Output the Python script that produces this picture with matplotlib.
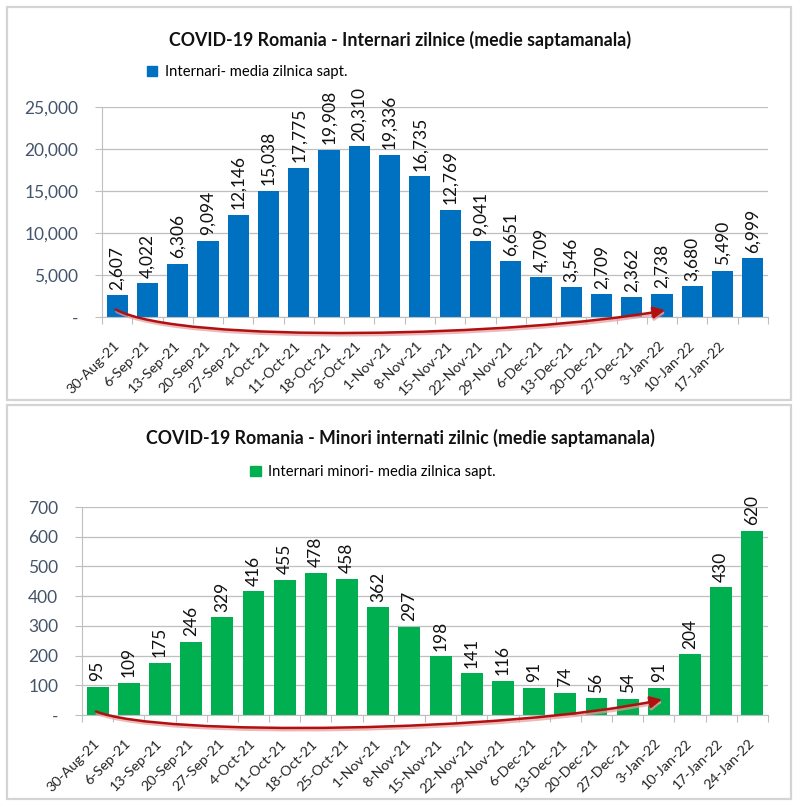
import numpy as np
import matplotlib
matplotlib.use("Agg")
import matplotlib.pyplot as plt
from matplotlib.patches import Rectangle, FancyArrowPatch
from matplotlib.path import Path
from matplotlib.transforms import offset_copy

plt.rcParams['font.family'] = ['Lato', 'DejaVu Sans']

dates = ["30-Aug-21", "6-Sep-21", "13-Sep-21", "20-Sep-21", "27-Sep-21", "4-Oct-21",
         "11-Oct-21", "18-Oct-21", "25-Oct-21", "1-Nov-21", "8-Nov-21", "15-Nov-21",
         "22-Nov-21", "29-Nov-21", "6-Dec-21", "13-Dec-21", "20-Dec-21", "27-Dec-21",
         "3-Jan-22", "10-Jan-22", "17-Jan-22", "24-Jan-22"]

# top chart: last bar has no date label in the original
top_labels = dates[:-1] + [""]
top_vals = [2607, 4022, 6306, 9094, 12146, 15038, 17775, 19908, 20310, 19336, 16735,
            12769, 9041, 6651, 4709, 3546, 2709, 2362, 2738, 3680, 5490, 6999]

bot_labels = dates
bot_vals = [95, 109, 175, 246, 329, 416, 455, 478, 458, 362, 297, 198, 141, 116,
            91, 74, 56, 54, 91, 204, 430, 620]

W, H = 800, 809
fig = plt.figure(figsize=(W / 100, H / 100), dpi=100)


def box(x0, y0, x1, y1):
    # pixel box (top-left origin) -> figure fraction rect
    return [x0 / W, 1 - y1 / H, (x1 - x0) / W, (y1 - y0) / H]


grid_c = "#bfbfbf"
tick_c = "#44546A"

# panel frames
for y0, y1 in [(7, 400), (405, 799)]:
    fig.patches.append(Rectangle((7 / W, 1 - y1 / H), 784 / W, (y1 - y0) / H,
                                 transform=fig.transFigure, fill=False,
                                 edgecolor="#d4d4d4", lw=1.6))


def draw(ax, labels, vals, color, ymax, ystep, fmt, legend_text, title, ty, lx, ly, arrow_pts):
    n = len(vals)
    x = np.arange(n)
    ax.bar(x, vals, width=0.7, color=color, zorder=2)
    ax.set_xlim(-0.5, n - 0.5)
    ax.set_ylim(0, ymax)
    ax.set_yticks(np.arange(0, ymax + 1, ystep))
    ax.yaxis.set_major_formatter(plt.FuncFormatter(lambda v, p: "-" if v == 0 else fmt(v)))
    ax.grid(axis="y", color=grid_c, lw=0.9, zorder=0)
    ax.tick_params(axis="y", length=5, color=grid_c, labelsize=12.5, labelcolor=tick_c, pad=12)
    # category boundaries as major x ticks, labels on minor ticks
    ax.set_xticks(np.arange(n + 1) - 0.5)
    ax.set_xticklabels([])
    ax.set_xticks(x, minor=True)
    ax.set_xticklabels(labels, minor=True, rotation=45, ha="right", va="center",
                       rotation_mode="anchor", fontsize=10.3, color="#262626")
    ax.tick_params(axis="x", which="major", length=5, color=grid_c)
    ax.tick_params(axis="x", which="minor", length=0, pad=19)
    for s in ["top", "right"]:
        ax.spines[s].set_visible(False)
    for s in ["left", "bottom"]:
        ax.spines[s].set_color(grid_c)
    for i, v in enumerate(vals):
        ax.annotate(fmt(v), (i, v), xytext=(0, 4), textcoords="offset points",
                    rotation=90, ha="center", va="bottom", fontsize=12.5, color="#111111")
    fig.text(0.5, 1 - ty / H, title, ha="center", va="center",
             fontsize=12.8, fontweight="bold", color="#111111")
    h = plt.Rectangle((0, 0), 1, 1, color=color)
    fig.legend([h], [legend_text], loc="center", bbox_to_anchor=(lx / W, 1 - ly / H),
               frameon=False, fontsize=10.6, handlelength=0.7, handleheight=0.7,
               handletextpad=0.5)
    path = Path(arrow_pts, [Path.MOVETO, Path.CURVE4, Path.CURVE4, Path.CURVE4])
    style = "-|>,head_length=7,head_width=3.5"
    shadow = FancyArrowPatch(path=path, arrowstyle=style, color="#e59a9a", lw=2.2,
                             clip_on=False, zorder=4, alpha=0.7,
                             transform=offset_copy(ax.transData, fig=fig, x=1, y=-2, units="dots"))
    ax.add_patch(shadow)
    arr = FancyArrowPatch(path=path, arrowstyle=style, color="#B01010", lw=1.8,
                          clip_on=False, zorder=5, transform=ax.transData)
    ax.add_patch(arr)


ax1 = fig.add_axes(box(102, 107, 768, 317))
draw(ax1, top_labels, top_vals, "#0070C0", 25000, 5000, lambda v: f"{v:,.0f}",
     "Internari- media zilnica sapt.",
     "COVID-19 Romania - Internari zilnice (medie saptamanala)", 40, 247, 72,
     [(-0.05, 900), (2.1, -3300), (13.3, -2300), (18.1, 800)])

ax2 = fig.add_axes(box(82, 507, 768, 715))
draw(ax2, bot_labels, bot_vals, "#00B050", 700, 100, lambda v: f"{v:.0f}",
     "Internari minori- media zilnica sapt.",
     "COVID-19 Romania - Minori internati zilnic (medie saptamanala)", 438, 373, 472,
     [(-0.05, 12), (2.0, -75), (13.2, -58), (18.1, 52)])

fig.savefig("out.png", dpi=100, facecolor="white")
